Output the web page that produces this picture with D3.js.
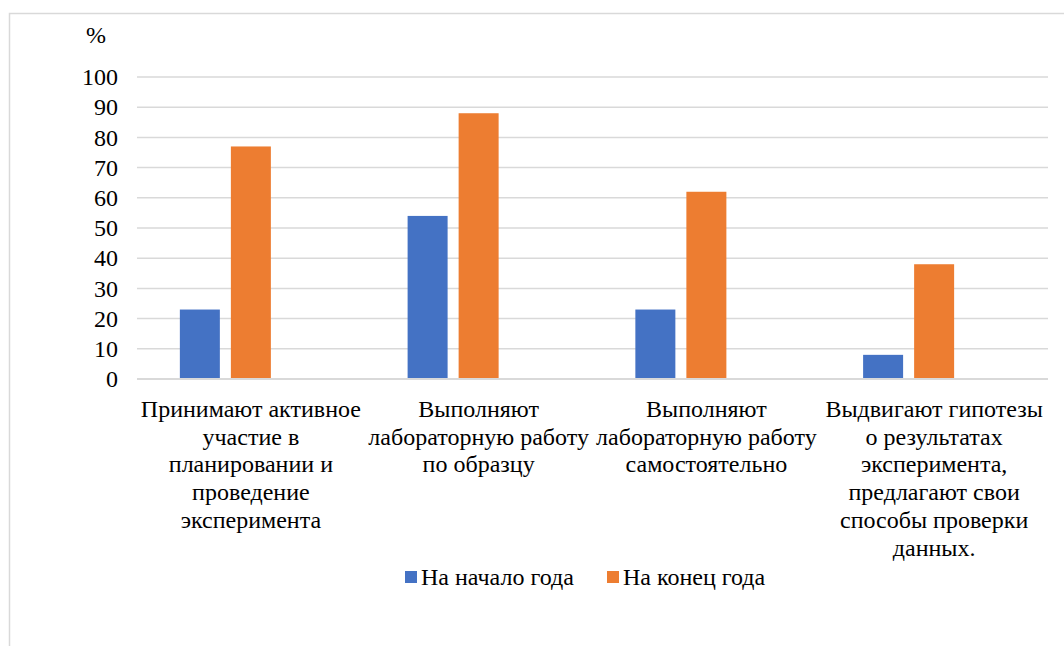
<!DOCTYPE html>
<html>
<head>
<meta charset="utf-8">
<script src="https://cdn.jsdelivr.net/npm/d3@7"></script>
<style>
  body { margin: 0; background: #fff; }
  svg text, svg tspan { font-family: "Liberation Serif" !important; }
</style>
</head>
<body>
<script>
// data
var categories = [
  ["Принимают активное", "участие в", "планировании и", "проведение", "эксперимента"],
  ["Выполняют", "лабораторную работу", "по образцу"],
  ["Выполняют", "лабораторную работу", "самостоятельно"],
  ["Выдвигают гипотезы", "о результатах", "эксперимента,", "предлагают свои", "способы проверки", "данных."]
];
var seriesNames = ["На начало года", "На конец года"];
var startValues = [23, 54, 23, 8];
var endValues = [77, 88, 62, 38];
var yTicks = [0, 10, 20, 30, 40, 50, 60, 70, 80, 90, 100];
var colors = ["#4472C4", "#ED7D31"];

var FONT = "Liberation Serif";

var W = 1064, H = 646;
var margin = {top: 77, right: 16, bottom: 267, left: 137};
var width = W - margin.left - margin.right,
    height = H - margin.top - margin.bottom;

var svg = d3.select("body").append("svg")
    .attr("width", W)
    .attr("height", H)
    .attr("font-family", FONT);

// outer frame (cut off at right and bottom)
svg.append("rect")
    .attr("x", 9.5).attr("y", 13.5)
    .attr("width", W + 20).attr("height", H + 20)
    .attr("fill", "none")
    .attr("stroke", "#d9d9d9")
    .attr("stroke-width", 1.5);

var g = svg.append("g")
    .attr("transform", "translate(" + margin.left + "," + margin.top + ")");

var x0 = d3.scaleBand()
    .domain(d3.range(categories.length))
    .range([0, width]);

// three slots per group (third slot is empty, as in the original)
var x1 = d3.scaleBand()
    .domain([0, 1, 2])
    .range([0, x0.bandwidth()])
    .paddingInner(0.216)
    .paddingOuter(0.84);

var y = d3.scaleLinear()
    .domain([0, 100])
    .range([height, 0]);

// gridlines
g.append("g")
    .selectAll("line")
    .data(yTicks.slice(1))
    .enter().append("line")
    .attr("x1", 0).attr("x2", width)
    .attr("y1", function(d) { return y(d); })
    .attr("y2", function(d) { return y(d); })
    .attr("stroke", "#d9d9d9")
    .attr("stroke-width", 1.5);

// y axis labels
var yAxis = g.append("g")
    .call(d3.axisLeft(y).tickValues(yTicks).tickSize(0).tickPadding(19))
    .attr("font-family", FONT)
    .attr("font-size", 24);
yAxis.select(".domain").remove();
yAxis.selectAll("text")
    .attr("font-family", FONT)
    .attr("fill", "#000");

// bars
var series = [startValues, endValues];
series.forEach(function(vals, si) {
  g.append("g")
      .selectAll("rect")
      .data(vals)
      .enter().append("rect")
      .attr("x", function(d, i) { return x0(i) + x1(si); })
      .attr("y", function(d) { return y(d); })
      .attr("width", x1.bandwidth())
      .attr("height", function(d) { return height - y(d); })
      .attr("fill", colors[si]);
});

// x axis line
g.append("line")
    .attr("x1", 0).attr("x2", width)
    .attr("y1", y(0)).attr("y2", y(0))
    .attr("stroke", "#d9d9d9")
    .attr("stroke-width", 2);

// category labels
var lab = g.append("g")
    .selectAll("text")
    .data(categories)
    .enter().append("text")
    .attr("text-anchor", "middle")
    .attr("font-size", 24)
    .attr("font-family", FONT)
    .attr("transform", function(d, i) {
      return "translate(" + (x0(i) + x0.bandwidth() / 2) + "," + (height + 38) + ")";
    });
lab.selectAll("tspan")
    .data(function(d) { return d; })
    .enter().append("tspan")
    .attr("x", 0)
    .attr("dy", function(d, i) { return i === 0 ? 0 : 27.7; })
    .text(function(d) { return d; });

// unit label
svg.append("text")
    .attr("x", 86).attr("y", 43)
    .attr("font-size", 24)
    .attr("font-family", FONT)
    .text("%");

// legend
var legend = svg.append("g")
    .selectAll("g")
    .data(seriesNames)
    .enter().append("g")
    .attr("transform", function(d, i) { return "translate(" + (405 + i * 202) + ",571)"; });
legend.append("rect")
    .attr("width", 12).attr("height", 12)
    .attr("fill", function(d, i) { return colors[i]; });
legend.append("text")
    .attr("x", 16).attr("y", 14)
    .attr("font-size", 24)
    .attr("font-family", FONT)
    .text(function(d) { return d; });
</script>
</body>
</html>
